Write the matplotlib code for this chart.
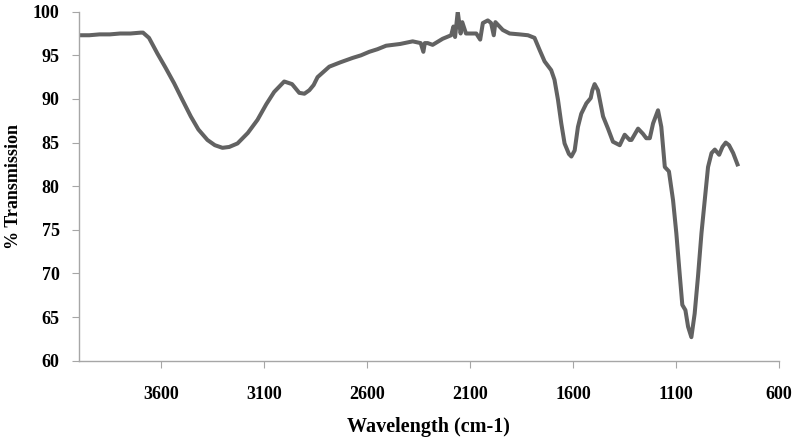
import matplotlib
matplotlib.use("Agg")
import matplotlib.pyplot as plt

# FTIR spectrum points (wavenumber, % transmission)
wavenumber = [4000, 3950, 3900, 3850, 3800, 3750, 3700, 3689, 3660, 3619, 3580,
              3538, 3500, 3457, 3420, 3376, 3340, 3303, 3270, 3230, 3180,
              3133, 3090, 3052, 3003, 2965, 2930, 2905, 2881, 2860, 2841,
              2784, 2730, 2671, 2630, 2590, 2550, 2508, 2440, 2379, 2340,
              2327, 2320, 2306, 2282, 2233, 2192, 2181, 2173, 2160, 2146,
              2138, 2120, 2103, 2070, 2051, 2038, 2014, 1998, 1985, 1977,
              1957, 1941, 1908, 1860, 1819, 1787, 1762, 1738, 1706, 1690,
              1673, 1657, 1641, 1620, 1608, 1592, 1576, 1560, 1535, 1514,
              1506, 1495, 1479, 1454, 1430, 1406, 1373, 1349, 1325, 1316,
              1284, 1260, 1244, 1227, 1211, 1187, 1171, 1154, 1134, 1114,
              1098, 1082, 1069, 1054, 1041, 1025, 1009, 993, 976, 960,
              944, 927, 911, 890, 874, 858, 842, 822, 801]
transmission = [97.3, 97.3, 97.4, 97.4, 97.5, 97.5, 97.6, 97.6, 97.0, 95.2, 93.6,
                91.8, 90.0, 88.0, 86.5, 85.3, 84.7, 84.4, 84.5, 84.9, 86.1,
                87.6, 89.4, 90.8, 92.0, 91.7, 90.7, 90.6, 91.0, 91.6, 92.5,
                93.7, 94.2, 94.7, 95.0, 95.4, 95.7, 96.1, 96.3, 96.6, 96.4,
                95.4, 96.4, 96.4, 96.2, 96.9, 97.3, 98.3, 97.1, 100.0, 97.5,
                98.8, 97.5, 97.5, 97.5, 96.8, 98.7, 99.0, 98.7, 97.3, 98.8,
                98.3, 97.9, 97.5, 97.4, 97.3, 97.0, 95.6, 94.3, 93.3, 92.2,
                89.9, 87.2, 84.9, 83.7, 83.4, 84.1, 86.8, 88.3, 89.5, 90.1,
                91.0, 91.7, 91.0, 88.0, 86.6, 85.1, 84.7, 85.9, 85.3, 85.3,
                86.6, 86.0, 85.5, 85.5, 87.2, 88.7, 86.8, 82.2, 81.7, 78.4,
                74.6, 70.0, 66.4, 65.8, 63.9, 62.7, 65.4, 69.6, 74.6, 78.4,
                82.2, 83.8, 84.2, 83.6, 84.5, 85.0, 84.7, 83.8, 82.5]

x_ticks = [3600, 3100, 2600, 2100, 1600, 1100, 600]
y_ticks = [60, 65, 70, 75, 80, 85, 90, 95, 100]

plt.rcParams["font.family"] = ["Liberation Serif", "DejaVu Serif"]
plt.rcParams["font.weight"] = "bold"

fig = plt.figure(figsize=(7.98, 4.41), dpi=100)
ax = fig.add_axes([0.099, 0.182, 0.877, 0.7915])

ax.plot(wavenumber, transmission, color="#626262", linewidth=2.9, solid_joinstyle="round")

ax.set_xlim(4000, 600)
ax.set_ylim(60, 100)
ax.set_xticks(x_ticks)
ax.set_yticks(y_ticks)

for s in ["top", "right"]:
    ax.spines[s].set_visible(False)
for s in ["left", "bottom"]:
    ax.spines[s].set_color("#a6a6a6")
    ax.spines[s].set_linewidth(1.0)

ax.tick_params(axis="x", direction="out", length=5, color="#a6a6a6",
               labelsize=13, pad=13)
ax.tick_params(axis="y", direction="out", length=5, color="#a6a6a6",
               labelsize=13, pad=9)
for lab in ax.get_xticklabels() + ax.get_yticklabels():
    lab.set_fontweight("bold")

ax.set_xlabel("Wavelength (cm-1)", fontsize=14.5, fontweight="bold")
ax.set_ylabel("% Transmission", fontsize=13, fontweight="bold")
ax.xaxis.set_label_coords(0.5, -0.19)
ax.yaxis.set_label_coords(-0.093, 0.5)
ax.xaxis.label.set_va("center")
ax.yaxis.label.set_va("center")

fig.savefig("out.png", dpi=100)
